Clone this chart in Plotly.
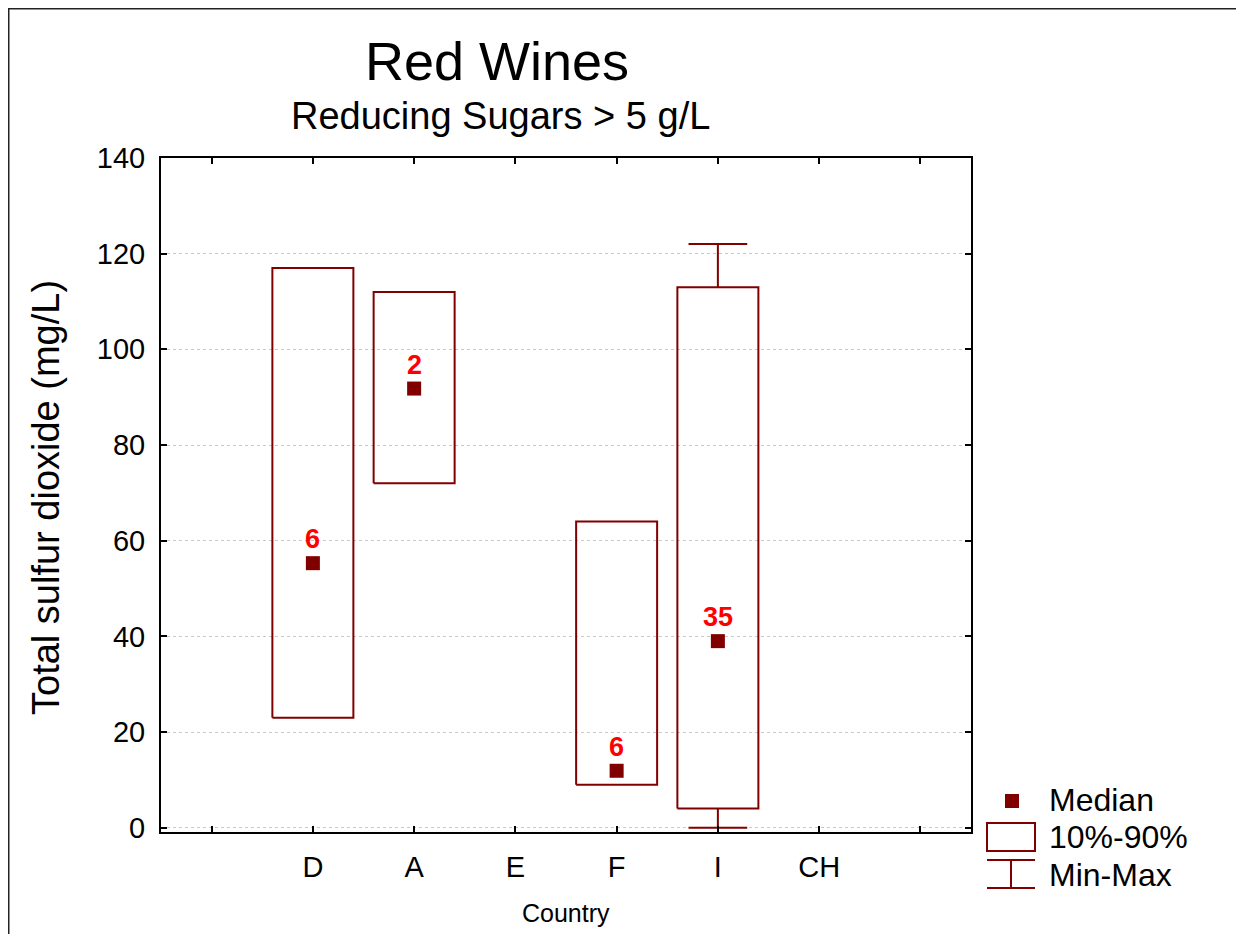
import plotly.graph_objects as go

# ---------------- data ----------------
categories = ["D", "A", "E", "F", "I", "CH"]
median = [55.3, 91.8, None, 11.9, 39.0, None]
p10 = [23.0, 72.0, None, 9.0, 4.0, None]
p90 = [117.0, 112.0, None, 64.0, 113.0, None]
vmin = [23.0, 72.0, None, 9.0, 0.0, None]
vmax = [117.0, 112.0, None, 64.0, 122.0, None]
n_obs = [6, 2, None, 6, 35, None]
y_ticks = [0, 20, 40, 60, 80, 100, 120, 140]
legend_labels = ["Median", "10%-90%", "Min-Max"]

# ---------------- layout constants (page pixels) ----------------
OFF = 8                      # page body margin
W, H = 1244 - OFF, 934 - OFF
L, R, T, B = 161, 971, 158, 832   # plot area in page pixels
DARK = "#800000"
BOX_HW = 0.4
CAP_HW = 0.29
FONT = "Liberation Sans, Arial, Helvetica, sans-serif"

pos = list(range(1, len(categories) + 1))


def px_x(px):
    return (px - L) / (R - L)


def px_y(py):
    return (B - py) / (B - T)


fig = go.Figure()

# boxes (10%-90%)
bx, by = [], []
for p, lo, hi in zip(pos, p10, p90):
    if lo is None:
        continue
    bx += [p - BOX_HW, p + BOX_HW, p + BOX_HW, p - BOX_HW, p - BOX_HW, None]
    by += [lo, lo, hi, hi, lo, None]
fig.add_trace(go.Scatter(x=bx, y=by, mode="lines",
                         line=dict(color=DARK, width=2), hoverinfo="skip",
                         showlegend=False))

# whiskers (min-max)
wx, wy = [], []
for p, lo, hi, mn, mx in zip(pos, p10, p90, vmin, vmax):
    if lo is None:
        continue
    if mx > hi:
        wx += [p, p, None, p - CAP_HW, p + CAP_HW, None]
        wy += [hi, mx, None, mx, mx, None]
    if mn < lo:
        wx += [p, p, None, p - CAP_HW, p + CAP_HW, None]
        wy += [lo, mn, None, mn, mn, None]
fig.add_trace(go.Scatter(x=wx, y=wy, mode="lines",
                         line=dict(color=DARK, width=2), hoverinfo="skip",
                         showlegend=False))

# medians
mx_, my_ = [], []
for p, m in zip(pos, median):
    if m is not None:
        mx_.append(p)
        my_.append(m)
fig.add_trace(go.Scatter(x=mx_, y=my_, mode="markers",
                         marker=dict(symbol="square", size=14, color=DARK,
                                     line=dict(width=0)),
                         showlegend=False))

annotations = []
for p, m, n in zip(pos, median, n_obs):
    if n is None:
        continue
    annotations.append(dict(x=p, y=m, xref="x", yref="y", text=f"<b>{n}</b>",
                            showarrow=False, yshift=24, yanchor="middle",
                            font=dict(family=FONT, size=27, color="#ff0000")))

# titles
annotations.append(dict(x=px_x(497), y=px_y(61), xref="paper", yref="paper",
                        text="Red Wines", showarrow=False, xanchor="center",
                        yanchor="middle", font=dict(family=FONT, size=54, color="black")))
annotations.append(dict(x=px_x(500), y=px_y(116), xref="paper", yref="paper",
                        text="Reducing Sugars > 5 g/L", showarrow=False,
                        xanchor="center", yanchor="middle",
                        font=dict(family=FONT, size=38, color="black")))
annotations.append(dict(x=px_x(46), y=px_y(498), xref="paper", yref="paper",
                        text="Total sulfur dioxide (mg/L)", showarrow=False,
                        textangle=-90, xanchor="center", yanchor="middle",
                        font=dict(family=FONT, size=38, color="black")))
annotations.append(dict(x=px_x(566), y=px_y(913), xref="paper", yref="paper",
                        text="Country", showarrow=False, xanchor="center",
                        yanchor="middle", font=dict(family=FONT, size=25, color="black")))

# legend texts
for lab, cy in zip(legend_labels, [800, 837, 875]):
    annotations.append(dict(x=px_x(1047), y=px_y(cy), xref="paper", yref="paper",
                            text=lab, showarrow=False, xanchor="left",
                            yanchor="middle",
                            font=dict(family=FONT, size=32, color="black")))

shapes = []
# figure frame (top and left)
shapes.append(dict(type="line", xref="paper", yref="paper", x0=px_x(8), x1=px_x(1260),
                   y0=px_y(8.5), y1=px_y(8.5), line=dict(color="#222222", width=2)))
shapes.append(dict(type="line", xref="paper", yref="paper", x0=px_x(8.5), x1=px_x(8.5),
                   y0=px_y(8), y1=px_y(950), line=dict(color="#222222", width=2)))
# legend symbols
shapes.append(dict(type="rect", xref="paper", yref="paper", x0=px_x(1005), x1=px_x(1019),
                   y0=px_y(808), y1=px_y(794), fillcolor=DARK, line=dict(width=0)))
shapes.append(dict(type="rect", xref="paper", yref="paper", x0=px_x(987), x1=px_x(1035),
                   y0=px_y(851), y1=px_y(823), line=dict(color=DARK, width=2)))
shapes.append(dict(type="line", xref="paper", yref="paper", x0=px_x(987), x1=px_x(1035),
                   y0=px_y(860), y1=px_y(860), line=dict(color=DARK, width=2)))
shapes.append(dict(type="line", xref="paper", yref="paper", x0=px_x(987), x1=px_x(1035),
                   y0=px_y(888), y1=px_y(888), line=dict(color=DARK, width=2)))
shapes.append(dict(type="line", xref="paper", yref="paper", x0=px_x(1011), x1=px_x(1011),
                   y0=px_y(860), y1=px_y(888), line=dict(color=DARK, width=2)))

fig.update_layout(
    width=W, height=H,
    margin=dict(l=L - OFF, r=W - (R - OFF), t=T - OFF, b=H - (B - OFF), pad=0),
    paper_bgcolor="white", plot_bgcolor="white",
    showlegend=False,
    annotations=annotations,
    shapes=shapes,
    font=dict(family=FONT, color="black"),
    xaxis=dict(range=[-0.5, len(categories) + 1.5],
               tickmode="array",
               tickvals=list(range(0, len(categories) + 2)),
               ticktext=[""] + categories + [""],
               ticks="inside", ticklen=6, tickwidth=2, tickcolor="black",
               showline=True, linewidth=2, linecolor="black", mirror="ticks",
               showgrid=False, zeroline=False,
               tickfont=dict(family=FONT, size=29, color="black"),
               ticklabelstandoff=8),
    yaxis=dict(range=[-0.9, 140],
               tickmode="array", tickvals=y_ticks,
               ticks="inside", ticklen=6, tickwidth=2, tickcolor="black",
               showline=True, linewidth=2, linecolor="black", mirror="ticks",
               showgrid=True, gridcolor="#c8c8c8", griddash="dot", gridwidth=1,
               zeroline=False,
               tickfont=dict(family=FONT, size=29, color="black"),
               ticklabelstandoff=8),
)

fig.write_html("out.html")
